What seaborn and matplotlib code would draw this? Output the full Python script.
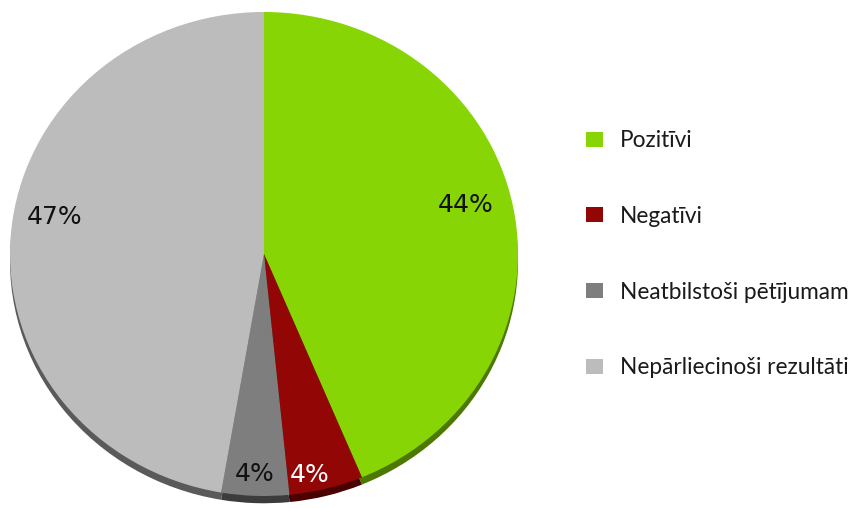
import matplotlib
matplotlib.use("Agg")
import numpy as np
import matplotlib.pyplot as plt
from matplotlib.patches import Patch
import seaborn as sns

# Data
categories = ["Pozitīvi", "Negatīvi", "Neatbilstoši pētījumam", "Nepārliecinoši rezultāti"]
values = [43.7, 4.7, 4.3, 47.3]
pct_labels = ["44%", "4%", "4%", "47%"]
colors = ["#87d504", "#930606", "#7e7e7e", "#bcbcbc"]
rim_colors = ["#4c7800", "#4a0000", "#3c3c3c", "#5a5a5a"]
label_colors = ["#111111", "#ffffff", "#111111", "#111111"]
# label placement style (radius as fraction, angular nudge in degrees)
label_radius = [0.82, 0.93, 0.91, 0.84]
label_nudge = [3.0, -3.0, -0.3, -5.5]

sns.set_theme(style="white")
plt.rcParams["font.family"] = ["DejaVu Sans"]

W, H = 848, 508
fig = plt.figure(figsize=(W / 100, H / 100), dpi=100)
fig.patch.set_facecolor("white")

cx, cy, rx, ry = 264, 254, 254, 242
ax = fig.add_axes([0, 0, 530 / W, 1])
ax.axis("off")

# 3D-like rim / shadow: darker pie offset downward
ax.pie(values, colors=rim_colors, startangle=90, counterclock=False,
       center=(0, -0.03), radius=1.0, wedgeprops=dict(linewidth=0))

it = iter(pct_labels)
wedges, texts, autotexts = ax.pie(
    values, colors=colors, startangle=90, counterclock=False,
    autopct=lambda p: next(it), pctdistance=0.84,
    wedgeprops=dict(linewidth=0),
    textprops=dict(fontsize=18))
for w, t, c, r, dn in zip(wedges, autotexts, label_colors, label_radius, label_nudge):
    t.set_color(c)
    mid = np.deg2rad((w.theta1 + w.theta2) / 2 + dn)
    t.set_position((r * np.cos(mid), r * np.sin(mid)))

ax.set_aspect("auto")
ax.set_xlim(-cx / rx, (530 - cx) / rx)
ax.set_ylim((cy - H) / ry, cy / ry)

handles = [Patch(facecolor=c, edgecolor="none") for c in colors]
fig.legend(handles, categories, loc="upper left",
           bbox_to_anchor=(577 / W, 1 - 121 / H), frameon=False,
           prop=dict(family=["Lato", "DejaVu Sans"], size=16.3),
           labelcolor="#1a1a1a",
           handlelength=0.75, handleheight=0.65, handletextpad=0.75,
           labelspacing=2.42, borderaxespad=0)

fig.savefig("out.png", dpi=100, facecolor="white")
